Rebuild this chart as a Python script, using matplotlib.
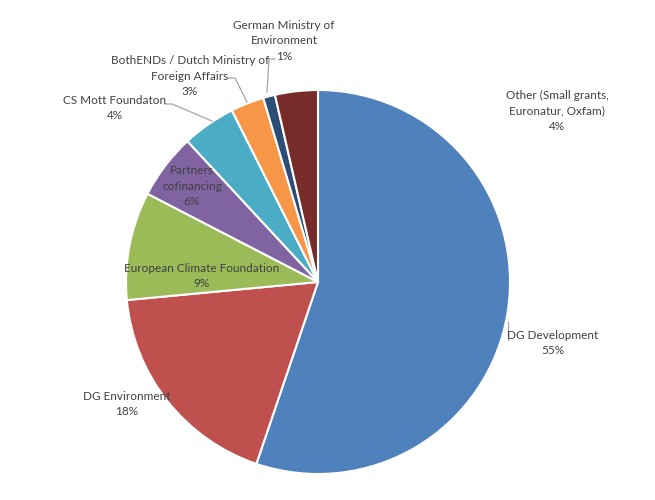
import matplotlib
matplotlib.use("Agg")
import matplotlib.pyplot as plt

categories = ["DG Development", "DG Environment", "European Climate Foundation",
              "Partners\ncofinancing", "CS Mott Foundaton",
              "BothENDs / Dutch Ministry of\nForeign Affairs",
              "German Ministry of\nEnvironment",
              "Other (Small grants,\nEuronatur, Oxfam)"]
values = [55.2, 18.3, 9.1, 5.5, 4.5, 2.8, 1.0, 3.6]
colors = ["#4F81BD", "#C0504D", "#9BBB59", "#8064A2", "#4BACC6",
          "#F79646", "#2C4D75", "#772C2A"]

W, H = 655, 500
fig = plt.figure(figsize=(W / 100, H / 100), dpi=100)
ax = fig.add_axes([0, 0, 1, 1])

cx, cy, r = 318, 282, 192
# y axis inverted: counterclock=True in data coords appears clockwise on screen
ax.pie(values, colors=colors, startangle=-90, counterclock=True,
       center=(cx, cy), radius=r, frame=True,
       wedgeprops=dict(edgecolor="white", linewidth=1.5))
ax.set_xlim(0, W)
ax.set_ylim(H, 0)
ax.set_aspect("equal")
ax.axis("off")

total = sum(values)
label_pos = [(553, 343), (127, 404), (202, 276), (192, 186), (115, 108),
             (190, 76), (284, 41), (557, 111)]
tc = "#404040"
for name, v, (x, y) in zip(categories, values, label_pos):
    ax.text(x, y, f"{name}\n{round(100 * v / total):d}%", ha="center", va="center",
            fontsize=8.5, color=tc, family=["Lato", "DejaVu Sans"], linespacing=1.45)

lc = "#A6A6A6"
leaders = [
    [(508, 322), (508, 340)],
    [(275, 59), (269, 59), (267, 92)],
    [(228, 78), (235, 78), (247, 102)],
    [(165, 104), (172, 104), (212, 121)],
]
for pts in leaders:
    xs, ys = zip(*pts)
    ax.plot(xs, ys, color=lc, linewidth=0.9)

fig.savefig("out.png", dpi=100, facecolor="white")
